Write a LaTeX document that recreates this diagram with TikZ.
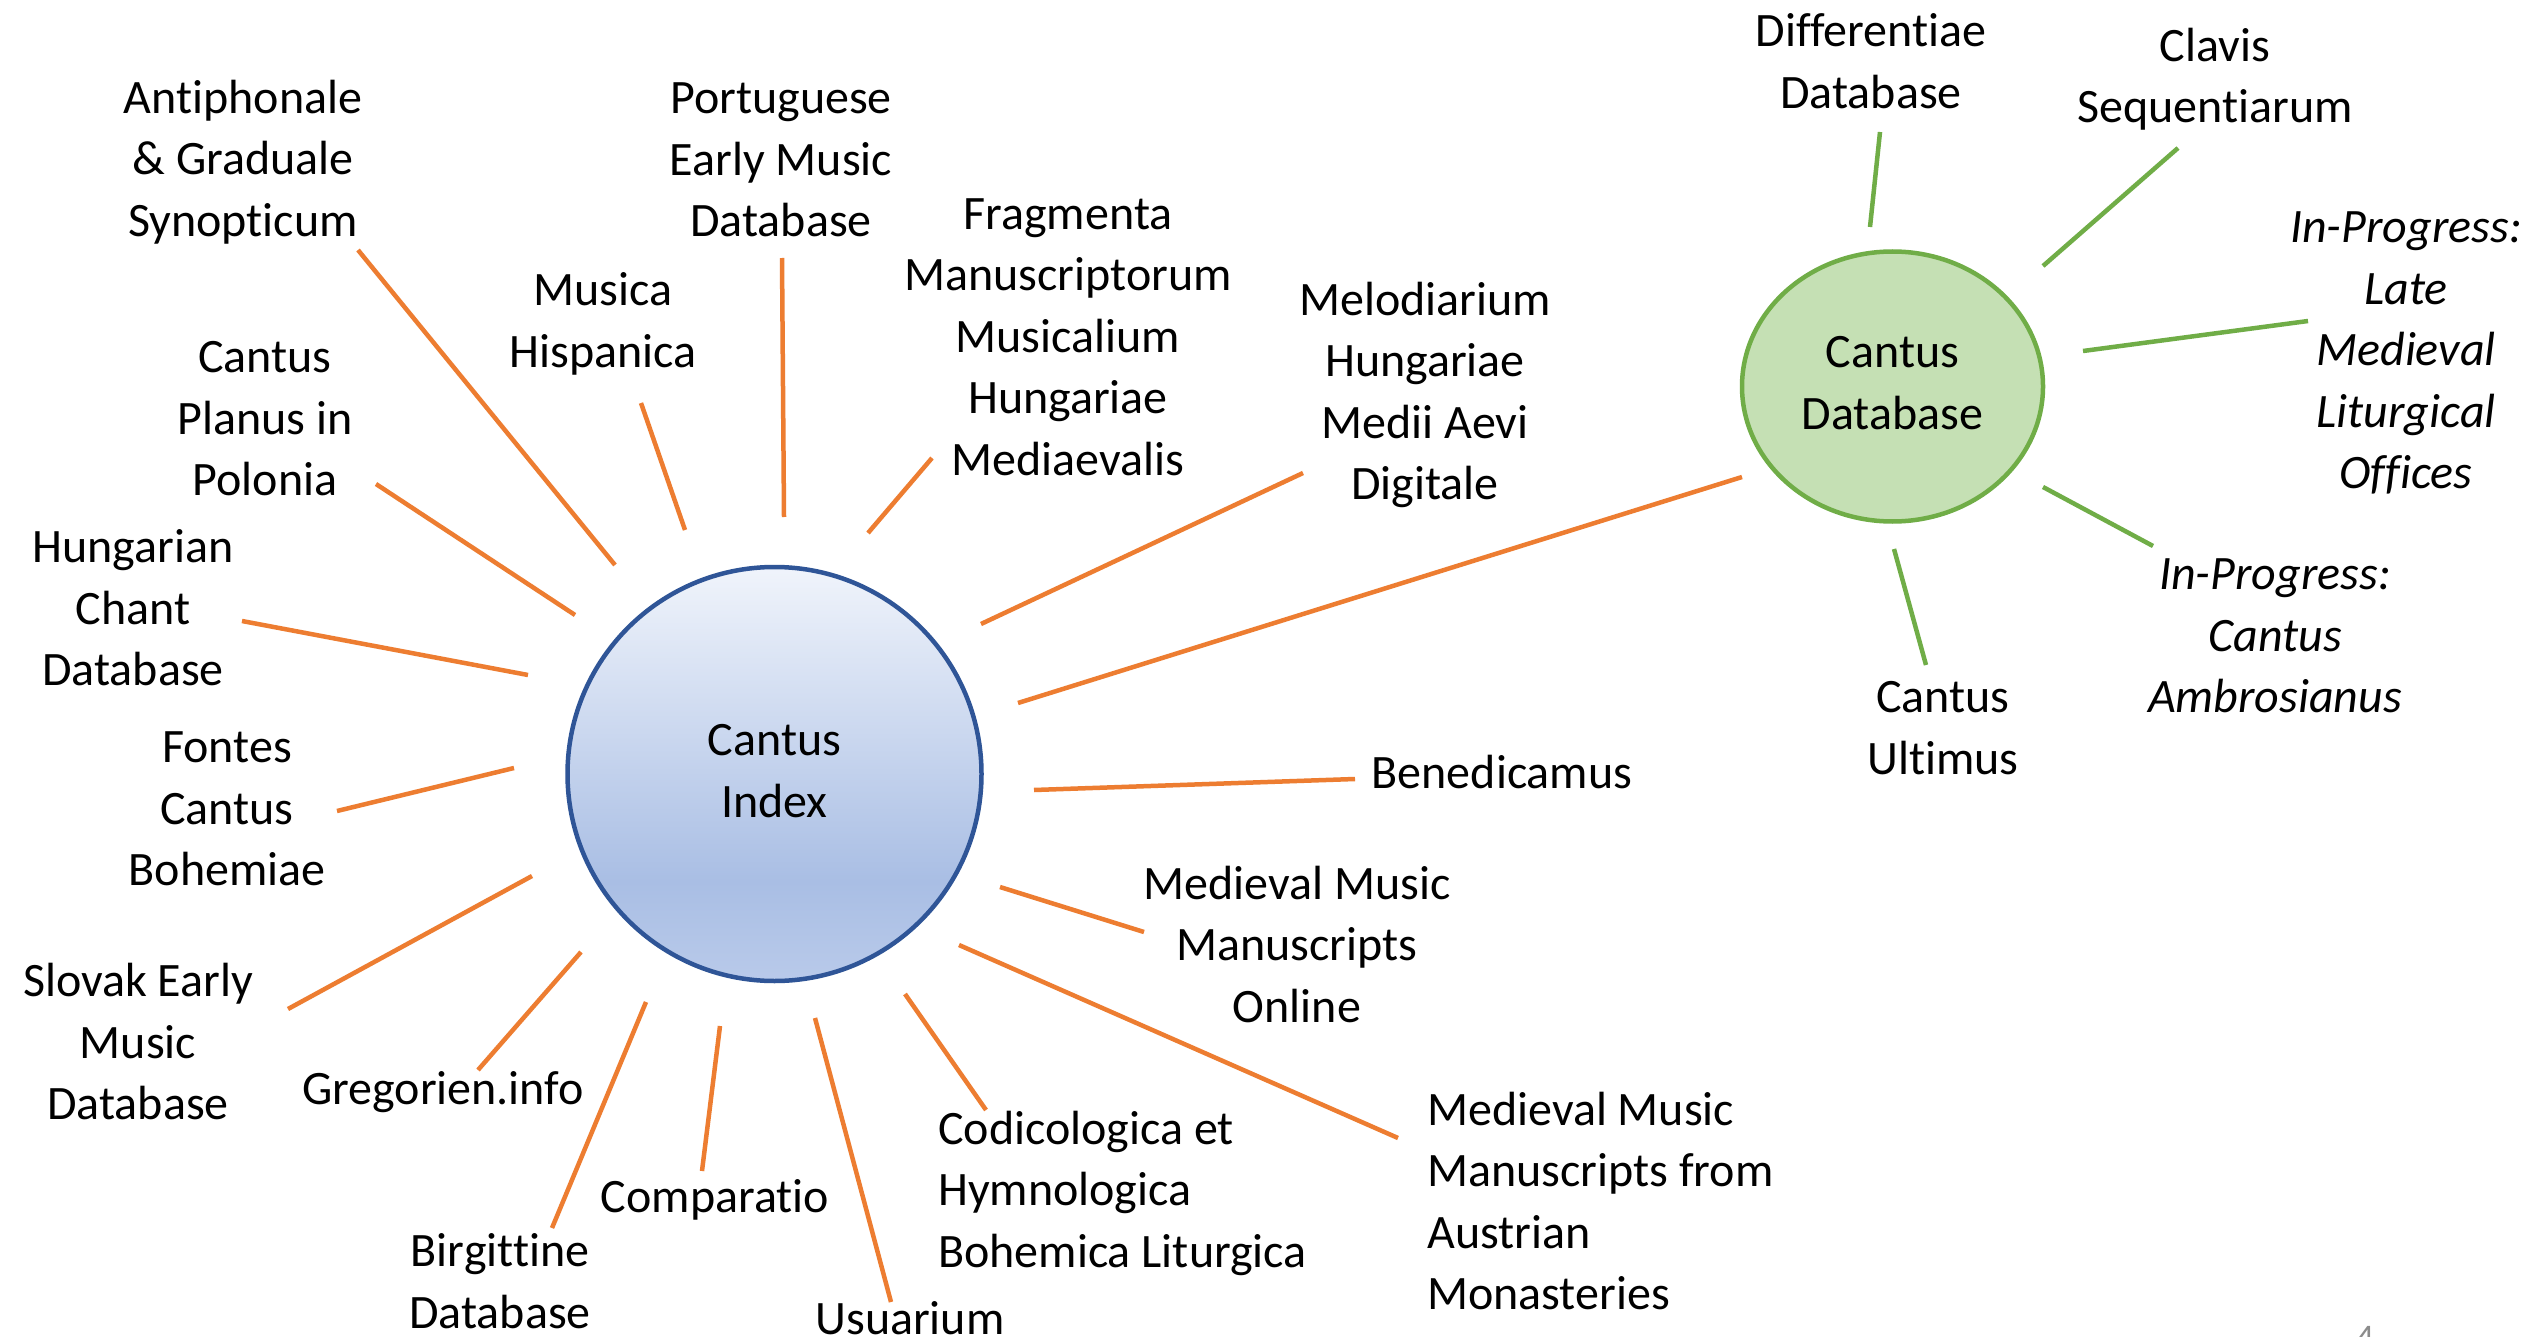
\documentclass[tikz,border=0pt]{standalone}
\usepackage{fontspec}
\setmainfont{Carlito}[Ligatures=NoCommon]
\usetikzlibrary{shapes.geometric}
\definecolor{orng}{HTML}{ED7D31}
\definecolor{grn}{HTML}{70AD47}
\definecolor{grnfill}{HTML}{C5E0B4}
\definecolor{blu}{HTML}{2F5597}
\definecolor{ciTop}{HTML}{F0F4FB}
\definecolor{ciMid}{HTML}{A9BEE4}
\definecolor{ciBot}{HTML}{B9CAEA}
\definecolor{pgnum}{HTML}{8C8C8C}
\pgfdeclareverticalshading{ciShade}{100bp}{color(0bp)=(ciBot); color(25bp)=(ciBot); color(37bp)=(ciMid); color(75bp)=(ciTop); color(100bp)=(ciTop)}
\begin{document}
\begin{tikzpicture}[x=1pt,y=-1pt,
  lbl/.style={font=\fontsize{48}{61.5}\selectfont, align=center, inner sep=0pt, text=black},
  lbll/.style={lbl, align=left, anchor=west},
  ital/.style={lbl, font=\fontsize{48}{61.5}\selectfont\itshape},
  olink/.style={draw=orng, line width=4.5pt},
  glink/.style={draw=grn, line width=4.5pt}]
\useasboundingbox (0,0) rectangle (2537,1337);
\fill[white] (0,0) rectangle (2537,1337);

% hubs
\node[circle, draw=blu, line width=4.5pt, shading=ciShade, minimum size=414pt, inner sep=0pt] (ci) at (774.5,774) {};
\node[lbl] (ciT) at (774.5,771) {Cantus\\Index};
\node[ellipse, draw=grn, line width=4.5pt, fill=grnfill, minimum width=301pt, minimum height=270pt, inner sep=0pt] (cd) at (1892.5,386.5) {};
\node[lbl] (cdT) at (1892.5,383) {Cantus\\Database};

% orange satellites
\node[lbl] (t1) at (243,162) {Antiphonale\\\& Graduale\\Synopticum};
\node[lbl] (t2) at (781,160) {Portuguese\\Early Music\\Database};
\node[lbl] (t3) at (603,324) {Musica\\Hispanica};
\node[lbl] (t4) at (1068,337) {Fragmenta\\Manuscriptorum\\Musicalium\\Hungariae\\Mediaevalis};
\node[lbl] (t5) at (1425,395) {Melodiarium\\Hungariae\\Medii Aevi\\Digitale};
\node[lbl] (t6) at (265,419) {Cantus\\Planus in\\Polonia};
\node[lbl] (t7) at (133,608) {Hungarian\\Chant\\Database};
\node[lbl] (t8) at (227,809) {Fontes\\Cantus\\Bohemiae};
\node[lbl] (t9) at (138,1042) {Slovak Early\\Music\\Database};
\node[lbl] (t10) at (443,1092) {Gregorien.info};
\node[lbl] (t11) at (500,1281) {Birgittine\\Database};
\node[lbl] (t12) at (715,1200) {Comparatio};
\node[lbl] (t13) at (910,1318) {Usuarium};
\node[lbll] (t14) at (938,1193) {Codicologica et\\Hymnologica\\Bohemica Liturgica};
\node[lbll] (t15) at (1427,1201) {Medieval Music\\Manuscripts from\\Austrian\\Monasteries};
\node[lbl] (t16) at (1297,944) {Medieval Music\\Manuscripts\\Online};
\node[lbl] (t17) at (1502,772) {Benedicamus};

% green satellites
\node[lbl] (t18) at (1871,61) {Differentiae\\Database};
\node[lbl] (t19) at (2215,79) {Clavis\\Sequentiarum};
\node[ital] (t20) at (2406,353) {In-Progress:\\Late\\Medieval\\Liturgical\\Offices};
\node[ital] (t21) at (2275,636) {In-Progress:\\Cantus\\Ambrosianus};
\node[lbl] (t22) at (1943,728) {Cantus\\Ultimus};

% page number (cut off by the page edge)
\node[anchor=base, inner sep=0pt, text=pgnum, font=\fontsize{36}{40}\selectfont] (pg) at (2365,1349) {4};

% connector end points
\coordinate (a1) at (358,250);   \coordinate (b1) at (615,565);
\coordinate (a2) at (782,258);   \coordinate (b2) at (784,517);
\coordinate (a3) at (641,403);   \coordinate (b3) at (685,530);
\coordinate (a4) at (932,458);   \coordinate (b4) at (868,533);
\coordinate (a5) at (1303,473);  \coordinate (b5) at (981,624);
\coordinate (a6) at (376,484);   \coordinate (b6) at (575,615);
\coordinate (a7) at (242,621);   \coordinate (b7) at (528,675);
\coordinate (a8) at (337,811);   \coordinate (b8) at (514,768);
\coordinate (a9) at (288,1009);  \coordinate (b9) at (532,876);
\coordinate (a10) at (478,1070); \coordinate (b10) at (581,952);
\coordinate (a11) at (552,1228); \coordinate (b11) at (646,1002);
\coordinate (a12) at (702,1171); \coordinate (b12) at (720,1026);
\coordinate (a13) at (891,1302); \coordinate (b13) at (815,1018);
\coordinate (a14) at (986,1110); \coordinate (b14) at (905,994);
\coordinate (a15) at (1398,1138);\coordinate (b15) at (959,945);
\coordinate (a16) at (1144,932); \coordinate (b16) at (1000,887);
\coordinate (a17) at (1355,779); \coordinate (b17) at (1034,790);
\coordinate (a18) at (1742,477); \coordinate (b18) at (1018,703);
\coordinate (g1a) at (1880,132); \coordinate (g1b) at (1870,227);
\coordinate (g2a) at (2178,148); \coordinate (g2b) at (2043,266);
\coordinate (g3a) at (2308,321); \coordinate (g3b) at (2083,351);
\coordinate (g4a) at (2153,546); \coordinate (g4b) at (2043,487);
\coordinate (g5a) at (1926,665); \coordinate (g5b) at (1894,549);

\foreach \i in {1,...,18} {\draw[olink] (a\i) -- (b\i);}
\foreach \i in {1,...,5} {\draw[glink] (g\i a) -- (g\i b);}
\end{tikzpicture}
\end{document}
